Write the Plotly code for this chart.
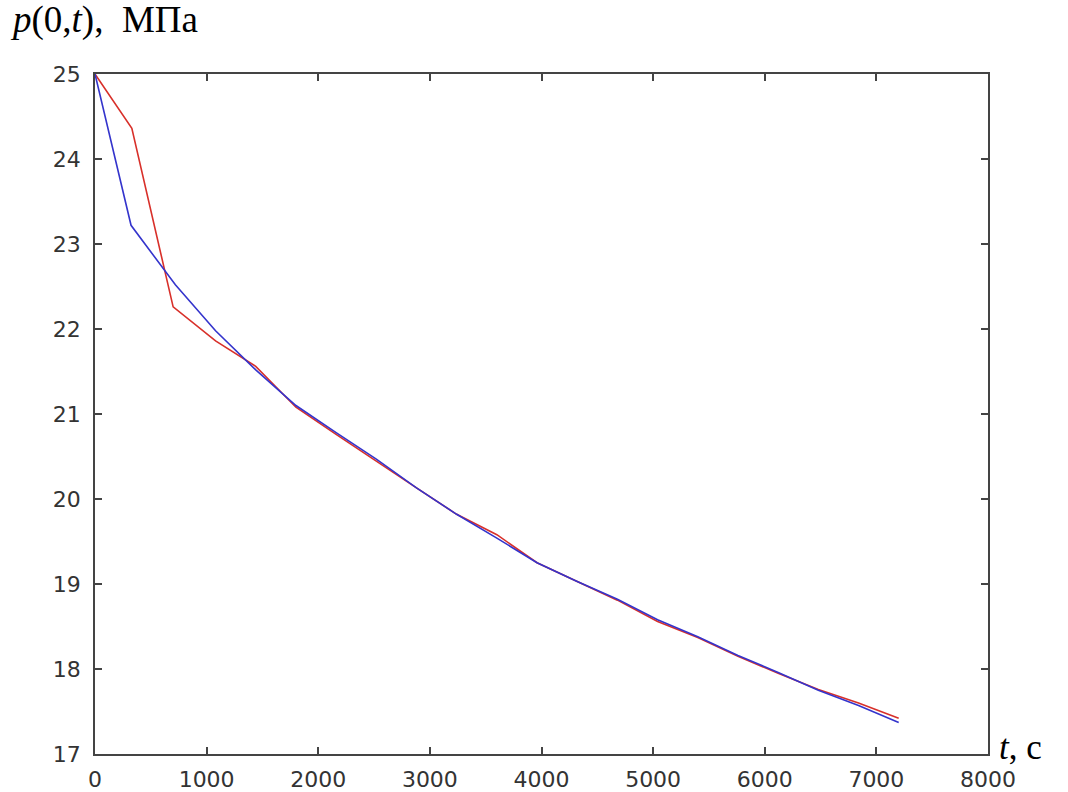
import plotly.graph_objects as go

t_red = [0, 330, 700, 900, 1080, 1440, 1800, 2160, 2520, 2880, 3240, 3600, 3960, 4320, 4680, 5040, 5400, 5760, 6120, 6480, 6840, 7200]
p_red = [25.0, 24.36, 22.26, 22.05, 21.86, 21.56, 21.08, 20.76, 20.44, 20.13, 19.82, 19.58, 19.25, 19.03, 18.81, 18.56, 18.37, 18.15, 17.95, 17.76, 17.60, 17.42]

t_blue = [0, 323, 720, 1080, 1440, 1800, 2160, 2520, 2880, 3240, 3600, 3960, 4320, 4680, 5040, 5400, 5760, 6120, 6480, 6840, 7200]
p_blue = [25.0, 23.22, 22.52, 21.98, 21.52, 21.10, 20.78, 20.47, 20.13, 19.82, 19.54, 19.25, 19.03, 18.82, 18.58, 18.38, 18.16, 17.96, 17.75, 17.57, 17.37]

x_ticks = [0, 1000, 2000, 3000, 4000, 5000, 6000, 7000, 8000]
y_ticks = [17, 18, 19, 20, 21, 22, 23, 24, 25]

fig = go.Figure()
fig.add_trace(go.Scatter(x=t_red, y=p_red, mode="lines",
                         line=dict(color="#d8302a", width=1.6), showlegend=False))
fig.add_trace(go.Scatter(x=t_blue, y=p_blue, mode="lines",
                         line=dict(color="#3434cc", width=1.6), showlegend=False))

axis_common = dict(showgrid=False, zeroline=False, showline=True, linecolor="#444444",
                   linewidth=1.5, mirror="ticks", ticks="inside", ticklen=7,
                   tickcolor="#444444", tickwidth=1.5, automargin=False,
                   tickfont=dict(family="DejaVu Sans", size=22, color="#333333"))

fig.update_xaxes(range=[0, 8000], tickvals=x_ticks, ticktext=[str(v) for v in x_ticks],
                 ticklabelstandoff=5, **axis_common)
fig.update_yaxes(range=[17, 25], tickvals=y_ticks, ticktext=[str(v) for v in y_ticks],
                 ticklabelstandoff=8, **axis_common)

fig.add_annotation(xref="paper", yref="paper", x=-0.097, y=1.045, xanchor="left", yanchor="bottom",
                   text="<i>p</i>(0,<i>t</i>),&nbsp;&nbsp;МПа", showarrow=False,
                   font=dict(family="Liberation Serif", size=37, color="#000000"))
fig.add_annotation(xref="paper", yref="paper", x=1.01, y=-0.022, xanchor="left", yanchor="bottom",
                   text="<i>t</i>, с", showarrow=False,
                   font=dict(family="Liberation Serif", size=35, color="#000000"))

fig.update_layout(width=1068, height=792, margin=dict(l=95, r=80, t=74, b=38),
                  paper_bgcolor="white", plot_bgcolor="white")

fig.write_html("out.html")
